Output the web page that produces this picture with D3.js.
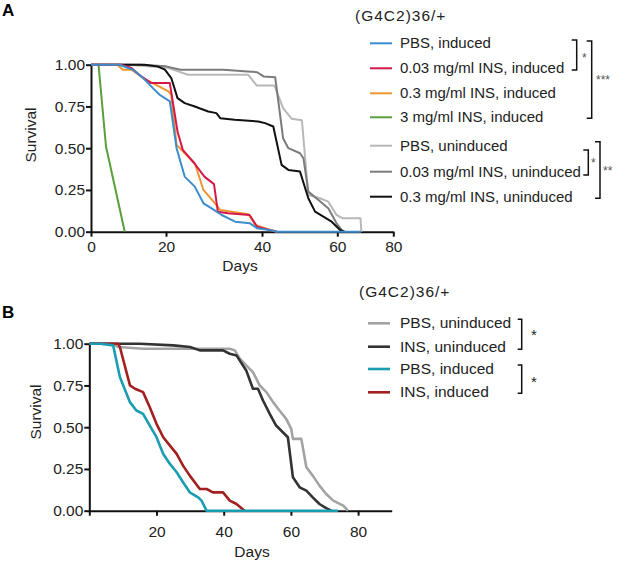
<!DOCTYPE html>
<html>
<head>
<meta charset="utf-8">
<script src="https://cdn.jsdelivr.net/npm/d3@7"></script>
<style>
  body { margin: 0; background: #fff; }
  text { font-family: "Liberation Sans", Arial, sans-serif; }
</style>
</head>
<body>
<div id="chart"></div>
<script>
// panel A: (G4C2)36/+ with INS doses, [day, survival]
const pbsInducedA = [[0,1],[7.6,1],[11.2,0.97],[13.9,0.92],[16.5,0.86],[18.3,0.82],[20.8,0.78],[22.2,0.50],[23.9,0.33],[26,0.27],[27.8,0.17],[29.5,0.14],[31.6,0.10],[34.4,0.06],[37.5,0.05],[39,0.02],[42,0.01],[44,0],[68.5,0]];
const ins003InducedA = [[0,1],[8,1],[10.8,0.98],[13.4,0.93],[16,0.89],[20.8,0.89],[22.4,0.60],[23.5,0.49],[25.9,0.41],[28,0.33],[30,0.285],[30.8,0.12],[32.9,0.11],[37.4,0.10],[39,0.03],[42,0.01],[44,0]];
const ins03InducedA = [[0,1],[7,1],[8.5,0.97],[10.8,0.97],[13.9,0.92],[16.5,0.89],[20.5,0.84],[21.1,0.82],[22.2,0.52],[23.9,0.47],[26,0.41],[27.8,0.25],[29.9,0.18],[31.3,0.13],[33.7,0.12],[37.2,0.105],[38.6,0.04],[41,0.02],[44,0]];
const ins3InducedA = [[0,1],[2,1],[4,0.51],[9,0]];
const pbsUninducedA = [[0,1],[10,1],[20.5,0.98],[22.5,0.96],[24.6,0.94],[37.1,0.94],[38.9,0.875],[43.3,0.875],[45.6,0.74],[47.9,0.676],[50.6,0.667],[52.3,0.22],[55.4,0.20],[57.6,0.18],[59.8,0.10],[62,0.08],[68.3,0.08],[68.6,0]];
const ins003UninducedA = [[0,1],[13,1],[20,0.99],[23,0.97],[32,0.97],[37,0.96],[39,0.955],[40.4,0.93],[43.5,0.925],[45.6,0.56],[47,0.50],[50.1,0.47],[51,0.44],[52.3,0.24],[55,0.19],[57.6,0.14],[59.8,0.05],[61.6,0.01],[62.5,0]];
const ins03UninducedA = [[0,1],[14.3,1],[17.7,0.99],[19.7,0.97],[21.1,0.92],[22.4,0.80],[23.9,0.77],[26,0.75],[28.8,0.72],[30.5,0.71],[31.3,0.68],[34.3,0.67],[39.2,0.66],[40.8,0.65],[43,0.63],[45.2,0.40],[47,0.37],[50.1,0.36],[52.3,0.20],[54.1,0.12],[56.3,0.09],[58.5,0.06],[61,0.01],[62.5,0]];

// panel B
const pbsUninducedB = [[0,1],[7,1],[8.6,0.98],[16,0.97],[41.8,0.97],[43.3,0.96],[44.8,0.91],[46.7,0.87],[48.7,0.83],[50.7,0.75],[52.7,0.71],[54.7,0.65],[56.6,0.60],[58.6,0.55],[60.1,0.49],[60.6,0.43],[63.1,0.43],[64.6,0.26],[66.5,0.21],[68.5,0.15],[70.5,0.10],[72.6,0.06],[75.6,0.03],[77,0]];
const insUninducedB = [[0,1],[15,1],[25,0.99],[30,0.98],[32.9,0.96],[39.8,0.96],[41.8,0.94],[43.8,0.93],[46.7,0.84],[48.7,0.73],[50.2,0.73],[51.7,0.66],[53.7,0.58],[55.6,0.51],[57.6,0.47],[59.1,0.44],[60.6,0.20],[62.6,0.14],[64.6,0.12],[66.5,0.08],[68.5,0.04],[70.5,0.015],[72,0]];
const pbsInducedB = [[0,1],[3.2,1],[7.1,0.99],[9.1,0.80],[12.1,0.65],[14,0.60],[16,0.58],[18,0.51],[20,0.44],[22,0.34],[24,0.28],[26,0.23],[27.9,0.17],[29.9,0.11],[32.4,0.08],[33.4,0.06],[34.9,0],[74,0]];
const insInducedB = [[0,1],[8.6,1],[9.1,0.98],[12.1,0.75],[13.6,0.73],[16,0.71],[18,0.62],[20,0.52],[22,0.44],[24,0.39],[26,0.34],[27.9,0.27],[29.9,0.21],[32.9,0.13],[34.9,0.13],[36.8,0.11],[39.8,0.11],[41.8,0.06],[43.8,0.04],[46.2,0]];

const labelsA = ["PBS, induced", "0.03 mg/ml INS, induced", "0.3 mg/ml INS, induced", "3 mg/ml INS, induced",
                 "PBS, uninduced", "0.03 mg/ml INS, uninduced", "0.3 mg/ml INS, uninduced"];
const colorsA = ["#3c8ccb", "#d5184a", "#ef9530", "#5b9e3c", "#b8b8b8", "#7b7b7b", "#111111"];
const labelsB = ["PBS, uninduced", "INS, uninduced", "PBS, induced", "INS, induced"];
const colorsB = ["#a3a3a3", "#333333", "#1a9cb3", "#a2201f"];
const yTicks = [0, 0.25, 0.5, 0.75, 1];

const width = 617, height = 566;
const fs = 15.5, fsLeg = 15;
const svg = d3.select("#chart").append("svg")
    .attr("width", width)
    .attr("height", height);

function drawAxes(g, x, y, xTicks, showZero) {
    const ax = g.append("g")
        .attr("transform", "translate(0," + y(0) + ")")
        .call(d3.axisBottom(x).tickValues(xTicks).tickSize(5).tickSizeOuter(0)
            .tickFormat(d => (d === 0 && !showZero) ? "" : d));
    const ay = g.append("g")
        .attr("transform", "translate(" + x(0) + ",0)")
        .call(d3.axisLeft(y).tickValues(yTicks).tickSize(5).tickSizeOuter(0).tickFormat(d3.format(".2f")));
    [ax, ay].forEach(a => {
        a.select(".domain").attr("stroke", "#111").attr("stroke-width", 2);
        a.selectAll(".tick line").attr("stroke", "#111").attr("stroke-width", 2);
        a.selectAll(".tick text").attr("font-size", fs).attr("fill", "#222");
    });
    ay.selectAll(".tick text").attr("x", -6);
    return ax;
}

// ---- panel A
const xA = d3.scaleLinear().domain([0, 20, 40, 60, 80]).range([91, 166, 262, 337.3, 393.3]);
const yA = d3.scaleLinear().domain([0, 1]).range([231.7, 64.7]);
const gA = svg.append("g");
const axA = drawAxes(gA, xA, yA, [0, 20, 40, 60, 80], true);
axA.selectAll(".tick text").attr("dy", "0.78em");

const lineA = d3.line().x(d => xA(d[0])).y(d => yA(d[1]));
const seriesA = [pbsInducedA, ins003InducedA, ins03InducedA, ins3InducedA, pbsUninducedA, ins003UninducedA, ins03UninducedA];
const orderA = [4, 5, 6, 3, 2, 1, 0];
orderA.forEach(i => {
    gA.append("path")
        .attr("d", lineA(seriesA[i]))
        .attr("fill", "none")
        .attr("stroke", colorsA[i])
        .attr("stroke-width", 2)
        .attr("stroke-linejoin", "round");
});

svg.append("text").attr("x", 2).attr("y", 16).attr("font-size", 17).attr("font-weight", "bold").text("A");
svg.append("text").attr("transform", "translate(36,135) rotate(-90)").attr("text-anchor", "middle")
    .attr("font-size", fs).attr("fill", "#222").text("Survival");
svg.append("text").attr("x", 240).attr("y", 271).attr("text-anchor", "middle")
    .attr("font-size", fs).attr("fill", "#222").text("Days");

// legend A
const legA = svg.append("g");
legA.append("text").attr("x", 355).attr("y", 21).attr("font-size", fs).attr("letter-spacing", 1)
    .attr("fill", "#222").text("(G4C2)36/+");
const rowsA = [43.3, 68.3, 93.3, 117.3, 145.7, 171.7, 196.7];
labelsA.forEach((l, i) => {
    legA.append("line").attr("x1", 370).attr("x2", 392).attr("y1", rowsA[i]).attr("y2", rowsA[i])
        .attr("stroke", colorsA[i]).attr("stroke-width", 2);
    legA.append("text").attr("x", 400).attr("y", rowsA[i] + 5).attr("font-size", fsLeg).attr("fill", "#222").text(l);
});

function bracket(g, xv, y1, y2, w) {
    g.append("path")
        .attr("d", "M" + (xv - w) + "," + y1 + "H" + xv + "V" + y2 + "H" + (xv - w))
        .attr("fill", "none").attr("stroke", "#111").attr("stroke-width", 1.5);
}
bracket(legA, 576.7, 40, 70, 5);
bracket(legA, 591.7, 41, 118.3, 5);
bracket(legA, 588.3, 150, 175, 5);
bracket(legA, 600, 141.7, 198.3, 5);
legA.append("text").attr("x", 582).attr("y", 62).attr("font-size", 12).attr("fill", "#555").text("*");
legA.append("text").attr("x", 596).attr("y", 84).attr("font-size", 12).attr("fill", "#555").text("***");
legA.append("text").attr("x", 591).attr("y", 167).attr("font-size", 12).attr("fill", "#555").text("*");
legA.append("text").attr("x", 603).attr("y", 175).attr("font-size", 12).attr("fill", "#555").text("**");

// ---- panel B
const xB = d3.scaleLinear().domain([0, 90]).range([89.3, 391.7]);
const yB = d3.scaleLinear().domain([0, 1]).range([510.7, 343.7]);
const gB = svg.append("g");
const axB = drawAxes(gB, xB, yB, [0, 20, 40, 60, 80], false);
axB.selectAll(".tick text").attr("dy", "1.2em");

const lineB = d3.line().x(d => xB(d[0])).y(d => yB(d[1]));
const seriesB = [pbsUninducedB, insUninducedB, pbsInducedB, insInducedB];
[0, 1, 3, 2].forEach(i => {
    gB.append("path")
        .attr("d", lineB(seriesB[i]))
        .attr("fill", "none")
        .attr("stroke", colorsB[i])
        .attr("stroke-width", 2.6)
        .attr("stroke-linejoin", "round");
});

svg.append("text").attr("x", 2).attr("y", 318).attr("font-size", 17).attr("font-weight", "bold").text("B");
svg.append("text").attr("transform", "translate(41,412) rotate(-90)").attr("text-anchor", "middle")
    .attr("font-size", fs).attr("fill", "#222").text("Survival");
svg.append("text").attr("x", 252).attr("y", 557).attr("text-anchor", "middle")
    .attr("font-size", fs).attr("fill", "#222").text("Days");

// legend B
const legB = svg.append("g");
legB.append("text").attr("x", 359).attr("y", 297).attr("font-size", fs).attr("letter-spacing", 1)
    .attr("fill", "#222").text("(G4C2)36/+");
const rowsB = [323.3, 346.7, 369, 392.3];
labelsB.forEach((l, i) => {
    legB.append("line").attr("x1", 368).attr("x2", 390).attr("y1", rowsB[i]).attr("y2", rowsB[i])
        .attr("stroke", colorsB[i]).attr("stroke-width", 2.6);
    legB.append("text").attr("x", 400).attr("y", rowsB[i] + 5).attr("font-size", fs).attr("fill", "#222").text(l);
});
bracket(legB, 521.7, 319.3, 349.3, 4);
bracket(legB, 521.7, 365, 393.3, 4);
legB.append("text").attr("x", 531).attr("y", 340).attr("font-size", 15).attr("fill", "#222").text("*");
legB.append("text").attr("x", 531).attr("y", 387).attr("font-size", 15).attr("fill", "#222").text("*");
</script>
</body>
</html>
